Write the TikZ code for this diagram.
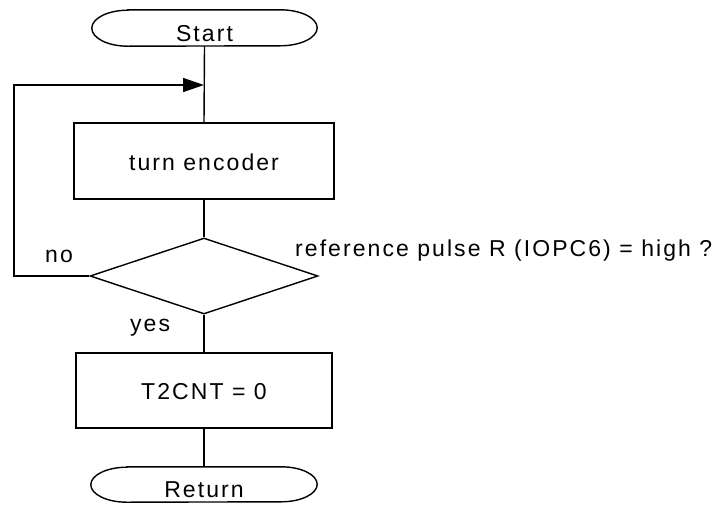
\documentclass[tikz,border=0pt]{standalone}
\usepackage{fontspec}
\setmainfont{Liberation Sans}[LetterSpace=9]
\usetikzlibrary{shapes.geometric,arrows.meta}
\begin{document}
\begin{tikzpicture}[x=1pt,y=-1pt,
  every node/.style={font=\fontsize{23}{27}\selectfont},
  ln/.style={line width=1.4pt, black},
  procbox/.style={draw, ln, rectangle, inner sep=0pt, text height=18pt, text depth=0pt},
  decision/.style={draw, ln, diamond, inner sep=0pt, minimum width=228pt, minimum height=76pt},
  termnode/.style={rectangle, inner sep=0pt},
  lbl/.style={inner sep=0pt},
  flow/.style={ln},
  arr/.style={ln, -{Triangle[length=21pt,width=14pt]}}
]
\useasboundingbox (0,0) rectangle (717,504);

% terminals
\node[termnode, minimum width=225pt, minimum height=36pt] (start) at (204.5,28) {};
\draw[ln] ([xshift=36pt]start.north west) -- ([xshift=-37pt]start.north east)
  arc[start angle=90, end angle=-90, x radius=37pt, y radius=18pt]
  -- ([xshift=36pt]start.south west)
  arc[start angle=270, end angle=90, x radius=36pt, y radius=18pt] -- cycle;
\node[lbl, anchor=base] (starttext) at (204.5,41) {Start};

\node[termnode, minimum width=226pt, minimum height=35pt] (ret) at (204,484.5) {};
\draw[ln] ([xshift=36pt]ret.north west) -- ([xshift=-36pt]ret.north east)
  arc[start angle=90, end angle=-90, x radius=36pt, y radius=17.5pt]
  -- ([xshift=36pt]ret.south west)
  arc[start angle=270, end angle=90, x radius=36pt, y radius=17.5pt] -- cycle;
\node[lbl, anchor=base] (rettext) at (204,497) {Return};

% process boxes
\node[procbox, minimum width=260pt, minimum height=76pt] (enc) at (204,161) {turn encoder};
\node[procbox, minimum width=256pt, minimum height=75pt] (cnt) at (204,390.5) {T2CNT = 0};

% decision
\node[decision] (dec) at (204,276) {};
\node[lbl, anchor=base west] (q) at (295,256) {reference pulse R (IOPC6) = high ?};
\node[lbl, anchor=base west] (no) at (45,262) {no};
\node[lbl, anchor=base west] (yes) at (130,331) {yes};

% connectors
\coordinate (merge) at (204,85);
\coordinate (corner) at (14,276);
\draw[flow] (start.south) -- (enc.north);
\draw[flow] (enc.south) -- (dec.north);
\draw[flow] (dec.south) -- (cnt.north);
\draw[flow] (cnt.south) -- (ret.north);
\draw[arr] (dec.west) -- (corner) |- (merge);
\end{tikzpicture}
\end{document}
